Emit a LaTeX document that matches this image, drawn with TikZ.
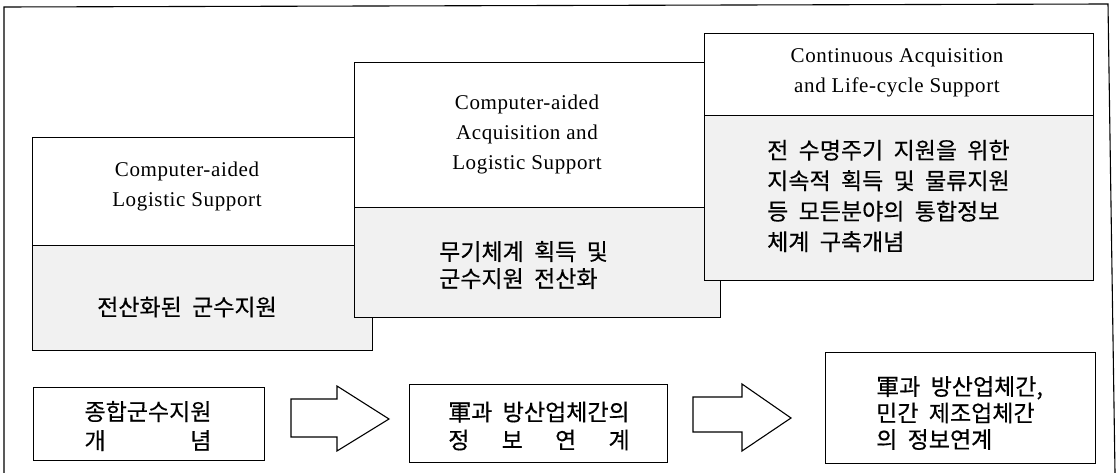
\documentclass[tikz,border=0pt]{standalone}
\usepackage{fontspec}
\usepackage{calc}
\newfontfamily\en{Liberation Serif}[LetterSpace=3]
\newfontfamily\kr{Noto Sans CJK KR}[WordSpace=2, FakeBold=0.4]
\definecolor{panelgray}{RGB}{241,241,241}
\tikzset{
  upper/.style={draw=black, line width=1.1pt, fill=white, inner sep=0pt, anchor=north west},
  lower/.style={draw=black, line width=1.1pt, fill=panelgray, inner sep=0pt, anchor=north west},
  entext/.style={font=\en\fontsize{21}{30}\selectfont, align=center, inner sep=0pt},
  krtext/.style={font=\kr\fontsize{23}{30}\selectfont, inner sep=0pt},
  plainbox/.style={draw=black, line width=1.1pt, fill=white, inner sep=0pt, anchor=north west},
  blockarrow/.style={draw=black, line width=1.1pt, fill=white, line join=miter},
  frameline/.style={draw=black, line width=1.1pt}
}
\begin{document}
\begin{tikzpicture}[x=1pt,y=-1pt]
\useasboundingbox (0,0) rectangle (1119,473);
% outer frame
\coordinate (f1) at (4,473);
\coordinate (f2) at (4,7);
\coordinate (f3) at (1108,4);
\coordinate (f4) at (1115,473);
\draw[frameline] (f1) -- (f2) -- (f3) -- (f4);

% stage 1
\node[upper, minimum width=340pt, minimum height=108pt] (b1u) at (32,137) {};
\node[lower, minimum width=340pt, minimum height=105pt] (b1l) at (32,245) {};
% stage 2
\node[upper, minimum width=366pt, minimum height=145pt] (b2u) at (354,62) {};
\node[lower, minimum width=366pt, minimum height=110pt] (b2l) at (354,207) {};
% stage 3
\node[upper, minimum width=389pt, minimum height=82pt] (b3u) at (704,33) {};
\node[lower, minimum width=389pt, minimum height=165pt] (b3l) at (704,115) {};

% texts
\node[entext] (t1e) at (187,186) {Computer-aided\\Logistic Support};
\node[krtext] (t1k) at (187,307) {전산화된 군수지원};
\node[entext] (t2e) at (527,134) {Computer-aided\\Acquisition and\\Logistic Support};
\node[krtext, align=left, anchor=west, font=\kr\fontsize{23}{27}\selectfont] (t2k) at (439,265) {무기체계 획득 및\\군수지원 전산화};
\node[entext] (t3e) at (897,73) {Continuous Acquisition\\and Life-cycle Support};
\node[krtext, align=left, anchor=west, font=\kr\fontsize{23}{30.5}\selectfont] (t3k) at (767,196) {전 수명주기 지원을 위한\\지속적 획득 및 물류지원\\등 모든분야의 통합정보\\체계 구축개념};

% bottom row
\node[plainbox, minimum width=231pt, minimum height=73pt] (ba) at (33,387) {};
\node[plainbox, minimum width=258pt, minimum height=78pt] (bb) at (409,384) {};
\node[plainbox, minimum width=270pt, minimum height=111pt] (bc) at (825,352) {};

\node[krtext, align=center, font=\kr\fontsize{23}{29}\selectfont] (tak) at (148,426) {종합군수지원\\\makebox[\widthof{종합군수지원}][s]{개 념}};
\node[krtext, align=center, font=\kr\fontsize{23}{28}\selectfont] (tbk) at (539,426) {軍과 방산업체간의\\\makebox[\widthof{軍과 방산업체간의}][s]{정 보 연 계}};
\node[krtext, align=left, anchor=west, font=\kr\fontsize{23}{26.5}\selectfont] (tck) at (876,413) {軍과 방산업체간,\\민간 제조업체간\\의 정보연계};

% block arrows
\coordinate (a1t) at (389,419);
\draw[blockarrow] (291,399) -- (337,399) -- (337,386) -- (a1t) -- (337,451) -- (337,437) -- (291,437) -- cycle;
\coordinate (a2t) at (791,418);
\draw[blockarrow] (693,397) -- (742,397) -- (742,384) -- (a2t) -- (742,451) -- (742,432) -- (693,432) -- cycle;
\end{tikzpicture}
\end{document}
